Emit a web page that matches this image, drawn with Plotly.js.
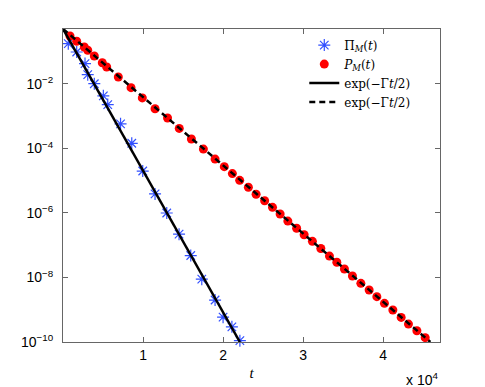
<!DOCTYPE html>
<html>
<head>
<meta charset="utf-8">
<script src="https://cdn.plot.ly/plotly-3.0.1.min.js"></script>
<style>
  html, body { margin: 0; padding: 0; background: #fff; }
  #plot { width: 485px; height: 387px; }
</style>
</head>
<body>
<div id="plot"></div>
<script>
// Pi_M(t): blue stars (t in units of 1)
var tPi = [0, 660, 1710, 2750, 3090, 3910, 5040, 5590, 7190, 8590, 9960,
           11500, 12960, 14500, 15960, 17340, 19000, 20000, 21100, 22100];
var yPi = [5.1e-1, 1.78e-1, 9.8e-2, 4.3e-2, 1.95e-2, 1.02e-2, 4.3e-3, 2.3e-3, 5.8e-4, 1.45e-4,
           2.0e-5, 3.9e-6, 1.0e-6, 2.2e-7, 4.8e-8, 8.9e-9, 2.0e-9, 5.9e-10, 2.95e-10, 1.1e-10];

// P_M(t): red dots
var tP = [875, 1710, 2660, 3090, 3910, 4910, 5460, 6910, 8500, 9910,
          11500, 13060, 14525, 16040, 17540, 19000, 20150, 21160, 22075, 23160,
          24125, 25190, 26175, 27125, 28090, 29190, 30125, 31160, 32210, 33290,
          34210, 35160, 36160, 37210, 38250, 39210, 40160, 41210, 42250, 43160,
          44210, 45250];
var yP = [3.08e-1, 2.11e-1, 1.40e-1, 1.11e-1, 7.4e-2, 4.57e-2, 3.37e-2, 1.65e-2, 7.7e-3, 3.7e-3,
          1.71e-3, 8.8e-4, 4.2e-4, 1.97e-4, 9.6e-5, 4.7e-5, 2.73e-5, 1.67e-5, 1.03e-5, 6.3e-6,
          3.8e-6, 2.39e-6, 1.50e-6, 9.3e-7, 5.6e-7, 3.36e-7, 2.12e-7, 1.32e-7, 7.9e-8, 4.6e-8,
          2.96e-8, 1.84e-8, 1.11e-8, 6.6e-9, 4.1e-9, 2.54e-9, 1.58e-9, 9.8e-10, 5.8e-10, 3.6e-10,
          2.24e-10, 1.36e-10];

// exp(-Gamma t/2) reference lines, endpoints
var tSolid = [0, 22100];
var ySolid = [5.1e-1, 1e-10];
var tDash = [0, 45900];
var yDash = [5.1e-1, 1e-10];

var yTickVals = [1e-2, 1e-4, 1e-6, 1e-8, 1e-10];
var yTickText = ['10<sup>\u22122</sup>', '10<sup>\u22124</sup>', '10<sup>\u22126</sup>',
                 '10<sup>\u22128</sup>', '10<sup>\u221210</sup>'];
var xTickVals = [10000, 20000, 30000, 40000];
var xTickText = ['1', '2', '3', '4'];

var trace1 = {
    x: tPi, y: yPi,
    mode: 'markers', type: 'scatter',
    name: '\u03a0<sub><i>M</i></sub>(<i>t</i>)',
    legendrank: 1,
    cliponaxis: false,
    marker: { symbol: 'asterisk-open', size: 10, color: 'rgb(50,80,255)',
              line: { color: 'rgb(50,80,255)', width: 1.2 } }
};

var trace2 = {
    x: tP, y: yP,
    mode: 'markers', type: 'scatter',
    name: '<i>P<sub>M</sub></i>(<i>t</i>)',
    legendrank: 2,
    cliponaxis: false,
    marker: { symbol: 'circle', size: 9, color: 'rgb(255,0,0)' }
};

var trace3 = {
    x: tSolid, y: ySolid,
    mode: 'lines', type: 'scatter',
    name: 'exp(\u2212\u0393<i>t</i>/2)',
    legendrank: 3,
    line: { color: 'black', width: 2.5 }
};

var trace4 = {
    x: tDash, y: yDash,
    mode: 'lines', type: 'scatter',
    name: 'exp(\u2212\u0393<i>t</i>/2)',
    legendrank: 4,
    line: { color: 'black', width: 2.5, dash: '6px,4px' }
};

var data = [trace1, trace2, trace3, trace4];

var layout = {
    width: 485, height: 387,
    margin: { l: 63, r: 45, t: 29, b: 45 },
    paper_bgcolor: 'white', plot_bgcolor: 'white',
    font: { family: 'Liberation Sans, Arial, sans-serif', size: 14, color: 'black' },
    showlegend: true,
    legend: {
        x: 0.64, y: 0.995, xanchor: 'left', yanchor: 'top',
        bgcolor: 'rgba(255,255,255,0)', borderwidth: 0,
        font: { family: 'DejaVu Serif, serif', size: 12, color: 'black' },
        tracegroupgap: 0
    },
    xaxis: {
        range: [0, 47100],
        tickvals: xTickVals, ticktext: xTickText,
        ticks: 'inside', ticklen: 5, tickcolor: '#666',
        tickfont: { size: 14 },
        showline: true, linecolor: '#666', linewidth: 1, mirror: 'ticks',
        showgrid: false, zeroline: false,
        title: { text: '<i>t</i>', font: { family: 'Liberation Serif, serif', size: 15 }, standoff: 5 }
    },
    yaxis: {
        type: 'log',
        range: [-10, -0.295],
        tickvals: yTickVals, ticktext: yTickText,
        ticks: 'inside', ticklen: 5, tickcolor: '#666',
        tickfont: { size: 14 },
        showline: true, linecolor: '#666', linewidth: 1, mirror: 'ticks',
        showgrid: false, zeroline: false,
        ticklabelstandoff: 6
    },
    annotations: [{
        text: 'x 10<sup>4</sup>', xref: 'paper', yref: 'paper',
        x: 1, y: 0, xanchor: 'right', yanchor: 'top', yshift: -26,
        showarrow: false, font: { family: 'Liberation Sans, Arial, sans-serif', size: 14 }
    }]
};

Plotly.newPlot('plot', data, layout, { displayModeBar: false });
</script>
</body>
</html>
